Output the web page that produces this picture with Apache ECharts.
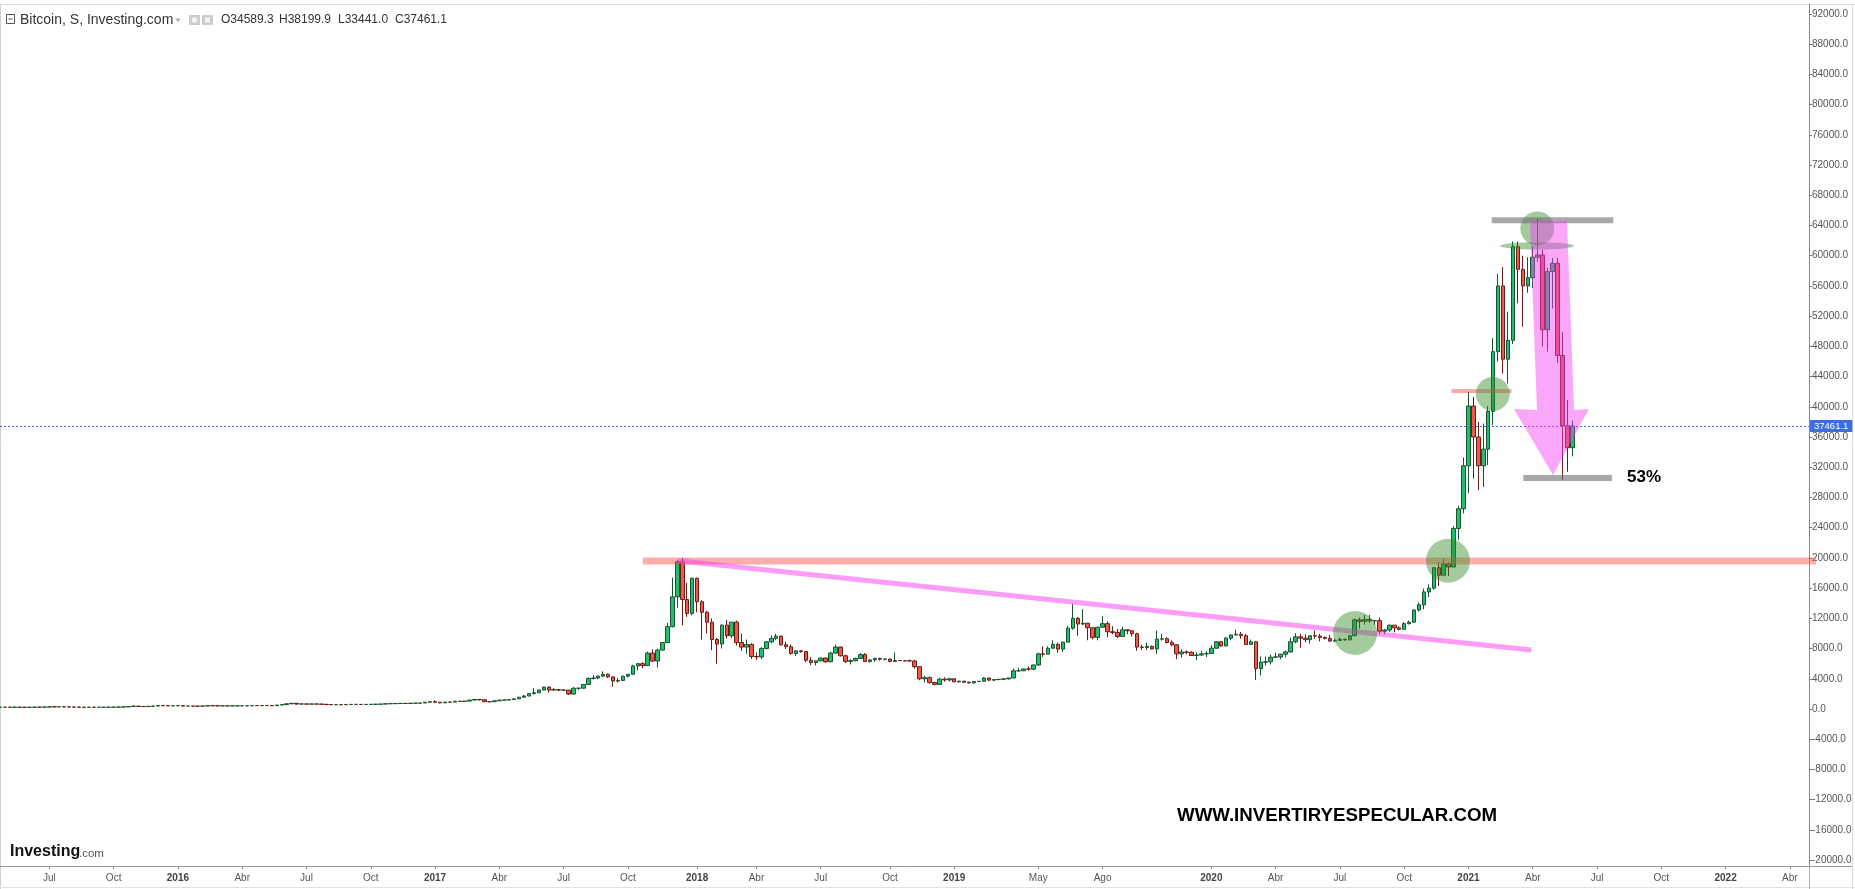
<!DOCTYPE html>
<html><head><meta charset="utf-8">
<script src="https://cdn.jsdelivr.net/npm/echarts@6/dist/echarts.min.js"></script>
<style>html,body{margin:0;padding:0;background:#fff}#c{width:1855px;height:889px}</style>
</head><body><div id="c"></div>
<script>
// ---- DATA ----
const firstWeek = '2015-04-26';          // weekly candles, week start (Sunday)
// rows: [open, high, low, close]
const w2015 = [
[225,243,218,240],[240,246,232,241],[241,245,233,237],[237,241,231,240],[240,241,227,230],[230,232,222,225],
[225,233,221,232],[232,252,231,244],[244,248,240,243],[243,265,243,260],[260,310,258,292],[292,297,270,279],
[279,292,273,291],[291,298,280,281],[281,285,260,264],[264,273,259,262],[262,263,195,232],[232,235,200,229],
[229,240,225,240],[240,245,225,230],[230,236,225,231],[231,237,226,234],[234,242,234,239],[239,249,237,247],
[247,270,245,262],[262,285,260,283],[283,335,280,325],[325,500,310,380],[380,385,300,330],[330,340,310,325],
[325,370,315,360],[360,400,350,390],[390,470,385,460],[460,470,425,440],[440,460,410,420],[420,437,410,432]];
const w2016 = [
[432,460,420,450],[450,455,370,390],[390,420,360,390],[390,400,370,378],[378,380,360,375],[375,405,372,400],
[400,440,398,437],[437,440,405,431],[431,440,400,411],[411,420,405,415],[415,420,405,410],[410,420,405,416],
[416,425,410,420],[420,425,415,421],[421,432,418,430],[430,460,428,455],[455,467,445,452],[452,465,440,460],
[460,462,445,455],[455,460,435,445],[445,530,440,528],[528,590,520,580],[580,720,570,690],[690,780,680,760],
[760,770,560,660],[660,700,610,670],[670,690,620,650],[650,680,640,665],[665,680,650,655],[655,660,620,625],
[625,630,480,590],[590,600,565,570],[570,585,565,580],[580,585,570,572],[572,610,565,605],[605,630,600,608],
[608,612,600,610],[610,612,594,603],[603,615,600,613],[613,620,608,617],[617,645,615,640],[640,660,630,655],
[655,720,650,700],[700,740,680,705],[705,750,700,738],[738,755,730,740],[740,745,725,735],[735,780,730,765],
[765,775,760,772],[772,800,770,792],[792,930,790,900],[900,1000,880,970]];
const w2017 = [
[970,1150,880,900],[900,920,750,820],[820,930,810,920],[920,930,880,915],[915,1040,910,1030],[1030,1070,940,1000],
[1000,1060,990,1050],[1050,1200,1050,1180],[1180,1290,1160,1270],[1270,1330,1100,1230],[1230,1260,950,970],[970,1060,900,965],
[965,1100,950,1090],[1090,1210,1080,1180],[1180,1220,1160,1190],[1190,1260,1170,1250],[1250,1350,1240,1350],[1350,1600,1340,1560],
[1560,1860,1550,1720],[1720,2050,1700,2040],[2040,2760,1900,2150],[2150,2550,2100,2520],[2520,2950,2500,2900],[2900,2980,2150,2500],
[2500,2770,2450,2560],[2560,2600,2380,2500],[2500,2650,2450,2510],[2510,2520,1850,1980],[1980,2900,1900,2750],[2750,2780,2500,2760],
[2760,3300,2700,3250],[3250,4200,3200,4050],[4050,4480,3900,4100],[4100,4450,3950,4350],[4350,4980,4300,4600],[4600,4700,4100,4250],
[4250,4300,2950,3700],[3700,4100,3500,3780],[3780,4400,3700,4350],[4350,4620,4150,4600],[4600,5850,4580,5700],[5700,6100,5100,6000],
[6000,6200,5400,5750],[5750,7600,5700,7400],[7400,7900,6200,6350],[6350,8000,5500,7800],[7800,8850,7700,8800],[8800,11400,8800,10900],
[10900,17400,10800,14850],[14850,19700,13400,19500],[19500,20000,11100,14500],[14500,16700,12200,12650],[12650,17400,12400,17300]];
const w2018 = [
[17300,17400,12800,14200],[14200,14400,9200,12800],[12800,13000,10000,11500],[11500,12000,7800,9200],[9200,9400,6000,8600],[8600,11200,8000,11100],
[11100,11800,9300,9700],[9700,11500,9400,11500],[11500,11700,8400,8800],[8800,10000,7700,8200],[8200,9200,7300,8550],[8550,8700,6600,6950],
[6950,7500,6500,6900],[6900,8200,6600,8000],[8000,9000,7900,8900],[8900,9750,8700,9350],[9350,9950,9100,9650],[9650,9700,8400,8500],
[8500,8900,7950,8250],[8250,8550,7200,7350],[7350,7750,7050,7700],[7700,7800,7450,7600],[7600,7600,6200,6450],[6450,6850,5800,6150],
[6150,6400,5750,6380],[6380,6800,6300,6750],[6750,6800,6100,6250],[6250,7600,6200,7400],[7400,8500,7300,8200],[8200,8250,6950,7050],
[7050,7150,6100,6300],[6300,6600,5900,6400],[6400,6800,6300,6700],[6700,7400,6650,7200],[7200,7400,6250,6280],[6280,6550,6150,6500],
[6500,6800,6250,6700],[6700,6800,6400,6600],[6600,6650,6450,6620],[6620,6650,6200,6300],[6300,7500,6280,6420],[6420,6480,6370,6400],
[6400,6470,6300,6380],[6380,6550,6340,6350],[6350,6500,5350,5600],[5600,5650,3800,4000],[4000,4400,3500,4150],[4150,4300,3350,3500],
[3500,3600,3200,3250],[3250,4150,3200,3950],[3950,4200,3600,3850],[3850,4100,3650,4000]];
const w2019 = [
[4000,4100,3550,3600],[3600,3720,3500,3690],[3690,3700,3450,3550],[3550,3600,3400,3450],[3450,3700,3400,3650],[3650,3700,3580,3670],
[3670,4200,3650,4100],[4100,4150,3700,3820],[3820,3930,3700,3900],[3900,3950,3800,3930],[3930,4050,3900,3990],[3990,4120,3900,4100],
[4100,5350,4080,5050],[5050,5450,4950,5070],[5070,5350,5000,5300],[5300,5630,5050,5280],[5280,5900,5150,5830],[5830,7450,5700,7300],
[7300,8300,6900,7260],[7260,8300,7250,8050],[8050,9100,8000,8550],[8550,8800,7450,7930],[7930,8900,7550,8850],[8850,11000,8850,10700],
[10700,13900,10500,12000],[12000,12200,9700,11250],[11250,13200,11100,11350],[11350,11400,9100,10760],[10760,10800,9200,9480],[9480,10900,9100,10820],
[10820,12300,10800,11300],[11300,11600,9500,10230],[10230,10950,9900,10140],[10140,10600,9400,9600],[9600,10900,9600,10480],[10480,10550,9900,10360],
[10360,10380,9600,9970],[9970,10100,7700,8200],[8200,8500,7800,8150],[8150,8800,7800,8300],[8300,8400,7900,7950],[7950,10400,7300,9250],
[9250,9950,9050,9300],[9300,9500,8700,8800],[8800,9100,8300,8500],[8500,8600,6600,7300],[7300,7900,6800,7550],[7550,7750,7250,7500],
[7500,7650,7050,7080],[7080,7500,6450,7150],[7150,7700,7050,7300],[7300,7650,6880,7350]];
const w2020 = [
[7350,8450,7300,8050],[8050,9000,8000,8900],[8900,8950,8250,8350],[8350,9550,8300,9380],[9380,9850,9100,9800],[9800,10500,9750,9900],
[9900,10200,9300,9700],[9700,9950,8500,8550],[8550,9200,8500,8900],[8900,8950,3850,5350],[5350,6950,4450,6200],[6200,6950,5750,6250],
[6250,7200,5900,6850],[6850,7450,6750,6900],[6900,7300,6600,7250],[7250,7750,6850,7550],[7550,9450,7500,8900],[8900,10050,8700,9550],
[9550,9950,8100,9380],[9380,9900,8850,9180],[9180,9700,8650,9700],[9700,10400,9300,9650],[9650,9950,8950,9470],[9470,9600,9200,9350],
[9350,9800,8850,9000],[9000,9350,8900,9080],[9080,9450,9050,9230],[9230,9300,9050,9160],[9160,9750,9100,9700],[9700,12000,9650,11800],
[11800,12100,10650,11600],[11600,12450,11150,11850],[11850,12450,11400,11680],[11680,11750,11150,11700],[11700,12100,9900,10300],[10300,10600,9900,10450],
[10450,11150,10200,11100],[11100,11100,10150,10750],[10750,10950,10400,10550],[10550,11500,10500,11300],[11300,11720,11200,11500],[11500,13200,11400,13100],
[13100,14100,12900,13800],[13800,15950,13200,15500],[15500,16500,14800,16000],[16000,18800,15800,18700],[18700,19400,16300,17700],[17700,19900,17700,19200],
[19200,19400,17600,18800],[18800,24200,18800,23900],[23900,26900,22400,26500],[26500,33300,25900,32200]];
const w2021 = [
[32200,42000,28600,40100],[40100,41300,30500,36000],[36000,38000,29000,32200],[32200,37800,29400,34400],[34400,40100,32300,39400],[39400,49100,37600,47300],
[47300,57600,46000,56000],[56000,58500,44400,46300],[46300,52600,43100,48800],[48800,61900,48300,61200],[61200,61900,53700,58200],[58200,60000,50600,56000],
[56000,59800,55100,57100],[57100,61200,55700,59800],[59800,64900,59200,60100],[60100,60800,48000,50200],[50200,58400,47300,57900],[57900,59700,53000,59000],
[59000,59700,45800,46800],[46800,49900,30300,37500],[37500,40900,31400,34589.3],[34589.3,38199.9,33441.0,37461.1]];

const lastOHLC = [34589.3, 38199.9, 33441.0, 37461.1];

const xTickDates = ['2015-07-05','2015-10-04','2016-01-03','2016-04-03','2016-07-03','2016-10-02','2017-01-01','2017-04-02',
  '2017-07-02','2017-10-01','2018-01-07','2018-04-01','2018-07-01','2018-10-07','2019-01-06','2019-05-05','2019-08-04',
  '2020-01-05','2020-04-05','2020-07-05','2020-10-04','2021-01-03','2021-04-04','2021-07-04','2021-10-03','2022-01-02','2022-04-03'];
const xTickLabels = ['Jul','Oct','2016','Abr','Jul','Oct','2017','Abr','Jul','Oct','2018','Abr','Jul','Oct','2019','May','Ago',
  '2020','Abr','Jul','Oct','2021','Abr','Jul','Oct','2022','Abr'];
const yTickValues = [-20000,-16000,-12000,-8000,-4000,0,4000,8000,12000,16000,20000,24000,28000,32000,36000,40000,
  44000,48000,52000,56000,60000,64000,68000,72000,76000,80000,84000,88000,92000];

// drawn annotations (data space)
const trendLine = [['2017-12-11', 19630, '2021-04-02', 7810]];
const resistanceBand = [['2017-10-22', '2022-05-10', 19600]];
const shortResistance = [['2020-12-10', '2021-03-05', 42100]];
const rangeBars = [['2021-02-05', '2021-07-27', 64700], ['2021-03-21T14:00', '2021-07-25', 30580]];
const circleCenters = [['2020-07-26T12:00', 10060], ['2020-12-05', 19630], ['2021-02-06T10:00', 41700], ['2021-04-10T12:00', 63600]];
const flatEllipse = [['2021-04-10', 61300]];
const arrowPoints = [['2021-03-31', 64590], ['2021-05-22T12:00', 64590], ['2021-06-01T10:00', 39580], ['2021-06-22T14:00', 39700],
  ['2021-05-02T17:00', 30970], ['2021-03-08T12:00', 39700], ['2021-04-10', 39580]];

// ---- sizes / styles ----
const circleRadii = [22, 22, 17, 17];
const DAY = 86400000;
const ts = s => Date.parse(s.length === 10 ? s + 'T00:00:00Z' : s + ':00Z');

const weeks = [].concat(w2015, w2016, w2017, w2018, w2019, w2020, w2021);
const t0 = ts(firstWeek);
const candleData = weeks.map((r, i) => [t0 + i * 7 * DAY, r[0], r[3], r[2], r[1]]);
const xTickTs = xTickDates.map(ts);
const xMin = Date.UTC(2015, 3, 26, 3);
const xMax = Date.UTC(2022, 3, 30, 2);

const chart = echarts.init(document.getElementById('c'), null, {renderer: 'canvas'});
const FONT = '"Liberation Sans", Arial, sans-serif';

function bandSeries(data, color, thick, z) {
  return {
    type: 'custom', z: z, silent: true, clip: false,
    data: data.map(d => [ts(d[0]), ts(d[1]), d[2]]),
    encode: {x: [0, 1], y: 2},
    renderItem: (p, api) => {
      const a = api.coord([api.value(0), api.value(2)]);
      const b = api.coord([api.value(1), api.value(2)]);
      return {type: 'rect', shape: {x: a[0], y: a[1] - thick / 2, width: b[0] - a[0], height: thick}, style: {fill: color}};
    }
  };
}

const option = {
  backgroundColor: '#ffffff',
  animation: false,
  grid: {left: 0, right: 46, top: 4, bottom: 23, containLabel: false},
  xAxis: {
    type: 'value', min: xMin, max: xMax, scale: true,
    axisLine: {show: true, onZero: false, lineStyle: {color: '#9a9a9a', width: 1}},
    axisTick: {show: true, customValues: xTickTs, length: 3, lineStyle: {color: '#888'}},
    axisLabel: {
      customValues: xTickTs, margin: 7, fontSize: 10, fontFamily: FONT, color: '#555',
      formatter: v => {
        const i = xTickTs.indexOf(Number(v));
        const s = i >= 0 ? xTickLabels[i] : '';
        return /^\d{4}$/.test(s) ? '{yr|' + s + '}' : '{mo|' + s + '}';
      },
      rich: {
        yr: {fontSize: 10, fontWeight: 'bold', color: '#444', fontFamily: FONT},
        mo: {fontSize: 10, color: '#555', fontFamily: FONT}
      }
    },
    splitLine: {show: false}
  },
  yAxis: {
    type: 'value', position: 'right', min: -20780, max: 93320,
    axisLine: {show: true, lineStyle: {color: '#8a8a8a'}},
    axisTick: {show: true, customValues: yTickValues, length: 3, lineStyle: {color: '#777'}},
    axisLabel: {customValues: yTickValues, margin: 3, fontSize: 10, fontFamily: FONT, color: '#555',
      formatter: v => Number(v).toFixed(1)},
    splitLine: {show: false}
  },
  series: [
    {
      type: 'candlestick', data: candleData, barWidth: 4, z: 2,
      itemStyle: {color: '#1fbf6e', color0: '#f0584b', borderColor: '#17532f', borderColor0: '#6b1c16', borderWidth: 1},
      markLine: {
        silent: true, symbol: 'none', animation: false,
        data: [{yAxis: lastOHLC[3]}],
        lineStyle: {color: '#3f6ad8', type: [2, 2], width: 1},
        label: {show: true, position: 'end', distance: 1, formatter: lastOHLC[3].toFixed(1),
          backgroundColor: '#3d6ee0', color: '#fff', fontSize: 9.5, fontFamily: FONT, padding: [1, 4, 1, 4]}
      }
    },
    bandSeries(resistanceBand, 'rgba(255,70,70,0.45)', 7, 4),
    bandSeries(shortResistance, 'rgba(255,80,80,0.5)', 4, 4),
    {
      type: 'custom', z: 5, silent: true, clip: false,
      data: trendLine.map(d => [ts(d[0]), d[1], ts(d[2]), d[3]]),
      encode: {x: [0, 2], y: [1, 3]},
      renderItem: (p, api) => {
        const a = api.coord([api.value(0), api.value(1)]);
        const b = api.coord([api.value(2), api.value(3)]);
        return {type: 'line', shape: {x1: a[0], y1: a[1], x2: b[0], y2: b[1]},
          style: {stroke: 'rgba(245,60,240,0.5)', lineWidth: 5, lineCap: 'butt'}};
      }
    },
    {
      type: 'custom', z: 6, silent: true, clip: false,
      data: circleCenters.map(d => [ts(d[0]), d[1]]),
      encode: {x: 0, y: 1},
      renderItem: (p, api) => {
        const c = api.coord([api.value(0), api.value(1)]);
        return {type: 'circle', shape: {cx: c[0], cy: c[1], r: circleRadii[p.dataIndex]},
          style: {fill: 'rgba(50,140,40,0.45)'}};
      }
    },
    {
      type: 'custom', z: 6, silent: true, clip: false,
      data: flatEllipse.map(d => [ts(d[0]), d[1]]),
      encode: {x: 0, y: 1},
      renderItem: (p, api) => {
        const c = api.coord([api.value(0), api.value(1)]);
        return {type: 'circle', x: c[0], y: c[1], scaleY: 3.6 / 37, shape: {cx: 0, cy: 0, r: 37},
          style: {fill: 'rgba(50,140,40,0.45)'}};
      }
    },
    bandSeries(rangeBars, 'rgba(110,110,110,0.6)', 6, 6),
    {
      type: 'custom', z: 7, silent: true, clip: false,
      data: [[ts(arrowPoints[0][0]), arrowPoints[0][1]]],
      encode: {x: 0, y: 1},
      renderItem: (p, api) => {
        const pts = arrowPoints.map(d => api.coord([ts(d[0]), d[1]]));
        return {type: 'polygon', shape: {points: pts}, style: {fill: 'rgba(245,60,245,0.45)'}};
      }
    }
  ],
  graphic: [
    {type: 'line', shape: {x1: 0, y1: 4.5, x2: 1855, y2: 4.5}, style: {stroke: '#dedede', lineWidth: 1}},
    {type: 'line', shape: {x1: 0.5, y1: 4, x2: 0.5, y2: 889}, style: {stroke: '#d0d0d0', lineWidth: 1}},
    {type: 'line', shape: {x1: 1852.5, y1: 4, x2: 1852.5, y2: 889}, style: {stroke: '#dcdcdc', lineWidth: 1}},
    {type: 'line', shape: {x1: 0, y1: 887.5, x2: 1855, y2: 887.5}, style: {stroke: '#e2e2e2', lineWidth: 1}},
    {type: 'line', shape: {x1: 1809.5, y1: 866, x2: 1809.5, y2: 889}, style: {stroke: '#b0b0b0', lineWidth: 1}},
    {type: 'line', shape: {x1: 1809, y1: 866.5, x2: 1852, y2: 866.5}, style: {stroke: '#9a9a9a', lineWidth: 1}},
    {type: 'rect', shape: {x: 6.5, y: 14.5, width: 8, height: 9}, style: {fill: '#fff', stroke: '#555', lineWidth: 1}},
    {type: 'line', shape: {x1: 8.5, y1: 19, x2: 12.5, y2: 19}, style: {stroke: '#555', lineWidth: 1}},
    {type: 'text', x: 20, y: 20, style: {text: 'Bitcoin, S, Investing.com', font: '14px ' + FONT, fill: '#333', verticalAlign: 'middle'}},
    {type: 'polygon', shape: {points: [[175, 18.5], [181, 18.5], [178, 22]]}, style: {fill: '#b0b0b0'}},
    {type: 'rect', shape: {x: 189, y: 15, width: 11, height: 10, r: 1}, style: {fill: '#cdcdcd'}},
    {type: 'circle', shape: {cx: 194.5, cy: 20, r: 2.8}, style: {fill: '#f4f4f4'}},
    {type: 'rect', shape: {x: 202, y: 15, width: 11, height: 10, r: 1}, style: {fill: '#cdcdcd'}},
    {type: 'rect', shape: {x: 205, y: 17.5, width: 5, height: 5}, style: {fill: '#f4f4f4'}},
    {type: 'text', x: 221, y: 20, style: {text: 'O' + lastOHLC[0].toFixed(1), font: '12px ' + FONT, fill: '#333', verticalAlign: 'middle'}},
    {type: 'text', x: 279, y: 20, style: {text: 'H' + lastOHLC[1].toFixed(1), font: '12px ' + FONT, fill: '#333', verticalAlign: 'middle'}},
    {type: 'text', x: 338, y: 20, style: {text: 'L' + lastOHLC[2].toFixed(1), font: '12px ' + FONT, fill: '#333', verticalAlign: 'middle'}},
    {type: 'text', x: 395, y: 20, style: {text: 'C' + lastOHLC[3].toFixed(1), font: '12px ' + FONT, fill: '#333', verticalAlign: 'middle'}},
    {type: 'text', x: 1627, y: 477, z: 20, style: {text: '53%', font: 'bold 17px ' + FONT, fill: '#000', verticalAlign: 'middle'}},
    {type: 'text', x: 1177, y: 816, z: 20, style: {text: 'WWW.INVERTIRYESPECULAR.COM', font: 'bold 18.7px ' + FONT, fill: '#000', verticalAlign: 'middle'}},
    {type: 'text', x: 10, y: 852, z: 20, style: {text: 'Investing', font: 'bold 16px ' + FONT, fill: '#111', verticalAlign: 'middle'}},
    {type: 'text', x: 79, y: 854, z: 20, style: {text: '.com', font: '11.5px ' + FONT, fill: '#555', verticalAlign: 'middle'}}
  ]
};
chart.setOption(option);
</script>
</body></html>
